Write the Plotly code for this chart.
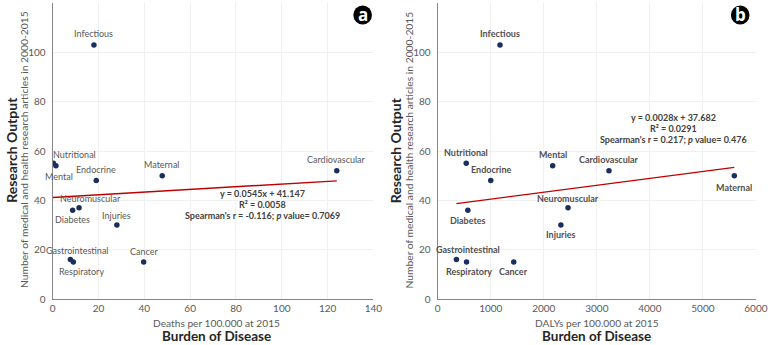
import plotly.graph_objects as go

# ---------------- data ----------------
categories = ["Infectious", "Nutritional", "Mental", "Endocrine", "Maternal", "Cardiovascular",
              "Neuromuscular", "Diabetes", "Injuries", "Gastrointestinal", "Respiratory", "Cancer"]
research_output = [103, 55, 54, 48, 50, 52, 37, 36, 30, 16, 15, 15]
deaths_2015 = [18.0, 0.3, 1.4, 19.0, 47.8, 124.0, 11.5, 8.7, 28.0, 7.7, 9.0, 39.7]
dalys_2015 = [1174, 537, 2167, 1000, 5593, 3229, 2457, 568, 2322, 352, 543, 1433]

fit_a = (0.0545, 41.147)
fit_b = (0.0028, 37.682)
eq_a = ["y = 0.0545x + 41.147", "R² = 0.0058", "Spearman's r = -0.116; <i>p</i> value= 0.7069"]
eq_b = ["y = 0.0028x + 37.682", "R² = 0.0291", "Spearman's r = 0.217; <i>p</i> value= 0.476"]

x_ticks_a = [0, 20, 40, 60, 80, 100, 120, 140]
x_ticks_b = [0, 1000, 2000, 3000, 4000, 5000, 6000]
y_ticks = [0, 20, 40, 60, 80, 100, 120]

# ---------------- style ----------------
W, H = 778, 345
FONT = "Lato"
TICK_C = "#595959"
MARK_C = "#1b2f5e"
LINE_C = "#c00000"
T, B = 3, 46
dom_a = [50.7 / W, 377.7 / W]
dom_b = [443.3 / W, 767.7 / W]

# label pixel offsets (xshift, yshift)
off_a = {"Infectious": (0, 11), "Nutritional": (21, 9), "Mental": (3, -11), "Endocrine": (0, 11),
         "Maternal": (0, 11), "Cardiovascular": (0, 11), "Neuromuscular": (11, 9), "Diabetes": (0, -9.5),
         "Injuries": (0, 10), "Gastrointestinal": (7, 9), "Respiratory": (8, -9), "Cancer": (0, 11)}
off_b = {"Infectious": (0, 11), "Nutritional": (0, 11), "Mental": (0, 11), "Endocrine": (0, 11),
         "Maternal": (0, -12), "Cardiovascular": (0, 11), "Neuromuscular": (0, 9), "Diabetes": (0, -10),
         "Injuries": (0, -9), "Gastrointestinal": (12, 10), "Respiratory": (2, -9), "Cancer": (0, -9)}

fig = go.Figure()

def py2paper(py):
    return (H - B - py) / (H - T - B)

def px2paper(px):
    return px / W

for xs, xa, ya, fit, xr in [(deaths_2015, "x", "y", fit_a, (0, max(deaths_2015))),
                            (dalys_2015, "x2", "y2", fit_b, (min(dalys_2015), max(dalys_2015)))]:
    fig.add_trace(go.Scatter(x=[xr[0], xr[1]], y=[fit[0] * xr[0] + fit[1], fit[0] * xr[1] + fit[1]],
                             mode="lines", line=dict(color=LINE_C, width=1.4),
                             xaxis=xa, yaxis=ya, showlegend=False, hoverinfo="skip"))
    fig.add_trace(go.Scatter(x=xs, y=research_output, mode="markers",
                             marker=dict(color=MARK_C, size=5.5),
                             xaxis=xa, yaxis=ya, showlegend=False))

annotations = []
for xs, xa, ya, offs, bold, col in [(deaths_2015, "x", "y", off_a, False, "#595959"),
                                    (dalys_2015, "x2", "y2", off_b, True, "#505050")]:
    for c, xv, yv in zip(categories, xs, research_output):
        dx, dy = offs[c]
        annotations.append(dict(x=xv, y=yv, xref=xa, yref=ya, text=f"<b>{c}</b>" if bold else c,
                                showarrow=False, xshift=dx, yshift=dy, xanchor="center", yanchor="middle",
                                font=dict(family=FONT, size=9, color=col)))

# equations
for lines, cx, ys in [(eq_a, 265, [193.3, 204.5, 215.7]), (eq_b, 683.3, [117.3, 128.3, 139.3])]:
    for t, yy in zip(lines, ys):
        annotations.append(dict(x=px2paper(cx), y=py2paper(yy), xref="paper", yref="paper",
                                text=f"<b>{t}</b>", showarrow=False, xanchor="center", yanchor="middle",
                                font=dict(family=FONT, size=9, color="#404040")))

# axis titles
for cx, xlab in [(218, "Deaths per 100.000 at 2015"), (605.5, "DALYs per 100.000 at 2015")]:
    annotations.append(dict(x=px2paper(cx), y=py2paper(322.5), xref="paper", yref="paper", text=xlab,
                            showarrow=False, xanchor="center", yanchor="middle", borderpad=0,
                            font=dict(family=FONT, size=10.2, color=TICK_C)))
    annotations.append(dict(x=px2paper(cx), y=py2paper(345), xref="paper", yref="paper",
                            text="<b>Burden of Disease</b>", showarrow=False, xanchor="center",
                            yanchor="bottom", borderpad=0,
                            font=dict(family=FONT, size=13.5, color="#262626")))
for lx in [0, 392]:
    annotations.append(dict(x=px2paper(lx + 8), y=py2paper(150), xref="paper", yref="paper",
                            text="<b>Research Output</b>", textangle=-90, showarrow=False,
                            xanchor="center", yanchor="middle",
                            font=dict(family=FONT, size=14, color="#262626")))
    annotations.append(dict(x=px2paper(lx + 21.5), y=py2paper(150), xref="paper", yref="paper",
                            text="Number of medical and health research articles in 2000-2015",
                            textangle=-90, showarrow=False, xanchor="center", yanchor="middle",
                            font=dict(family=FONT, size=10.3, color=TICK_C)))

# panel letters
shapes = []
for cx, letter in [(366.7, "a"), (751.7, "b")]:
    r = 9.5
    shapes.append(dict(type="circle", xref="paper", yref="paper",
                       x0=px2paper(cx - r), x1=px2paper(cx + r),
                       y0=py2paper(15 + r), y1=py2paper(15 - r),
                       fillcolor="black", line=dict(color="black", width=0)))
    annotations.append(dict(x=px2paper(cx), y=py2paper(14.5), xref="paper", yref="paper",
                            text=f"<b>{letter}</b>", showarrow=False, xanchor="center", yanchor="middle",
                            font=dict(family="Open Sans", size=17, color="white")))

axis_common = dict(showgrid=True, gridcolor="#f0f0f0", gridwidth=1, zeroline=False,
                   showline=True, linecolor="#868686", linewidth=1.2, ticks="",
                   tickfont=dict(family=FONT, size=10, color=TICK_C))

fig.update_layout(
    width=W, height=H, margin=dict(l=0, r=0, t=T, b=B),
    paper_bgcolor="white", plot_bgcolor="white",
    xaxis=dict(domain=dom_a, range=[0, 140], tickvals=x_ticks_a, anchor="y", **axis_common),
    yaxis=dict(domain=[0, 1], range=[0, 120], tickvals=y_ticks, anchor="x", ticklabelstandoff=4, **axis_common),
    xaxis2=dict(domain=dom_b, range=[0, 6000], tickvals=x_ticks_b, anchor="y2", **axis_common),
    yaxis2=dict(domain=[0, 1], range=[0, 120], tickvals=y_ticks, anchor="x2", ticklabelstandoff=4, **axis_common),
    annotations=annotations, shapes=shapes,
)

fig.write_html("out.html", config={"displayModeBar": False},
               post_script="document.body.style.margin='0';")
